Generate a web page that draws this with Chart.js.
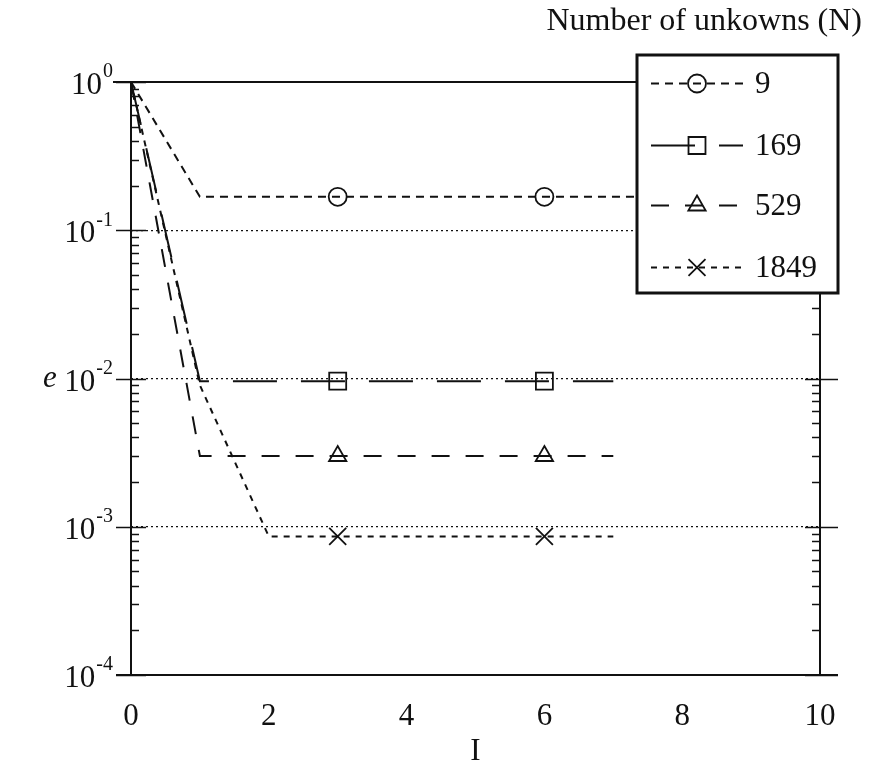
<!DOCTYPE html>
<html>
<head>
<meta charset="utf-8">
<title>Error e against iterations I</title>
<script src="https://cdn.jsdelivr.net/npm/chart.js@4"></script>
<style>
  html, body { margin: 0; padding: 0; background: #fff; }
  #wrap { width: 869px; height: 770px; }
</style>
</head>
<body>
<div id="wrap"><canvas id="chart" width="869" height="770"></canvas></div>
<script>
// error e after I iterations, one series per problem size N
const iters9 = [0, 1, 3, 6, 10];
const err9 = [1, 0.168, 0.168, 0.168, 0.168];
const iters169 = [0, 1, 3, 6, 7];
const err169 = [1, 0.0096, 0.0096, 0.0096, 0.0096];
const iters529 = [0, 1, 3, 6, 7];
const err529 = [1, 0.003, 0.003, 0.003, 0.003];
const iters1849 = [0, 1, 2, 3, 6, 7];
const err1849 = [1, 0.009, 0.00086, 0.00086, 0.00086, 0.00086];

const markedIters = [3, 6];           // symbols only drawn here
const unknowns = ['9', '169', '529', '1849'];
const xTicks = [0, 2, 4, 6, 8, 10];
const decades = [0, -1, -2, -3, -4];  // y labels are 10^p

const SERIF = '"Liberation Serif", "Times New Roman", serif';
const INK = '#111';

function series(label, xs, ys, style, radius, dash) {
  return {
    label,
    data: xs.map((v, i) => ({ x: v, y: ys[i] })),
    borderColor: INK,
    borderWidth: 2,
    borderDash: dash,
    tension: 0,
    pointStyle: style,
    markRadius: radius,
    pointRadius: ctx => markedIters.includes(xs[ctx.dataIndex]) ? radius : 0,
    pointHoverRadius: 0,
    pointBorderColor: INK,
    pointBackgroundColor: 'rgba(0,0,0,0)',
    pointBorderWidth: 1.8
  };
}

const datasets = [
  series(unknowns[0], iters9, err9, 'circle', 9, [8, 6]),
  series(unknowns[1], iters169, err169, 'rect', 12, [44, 24]),
  series(unknowns[2], iters529, err529, 'triangle', 10, [18, 16]),
  series(unknowns[3], iters1849, err1849, 'crossRot', 12, [6, 6])
];

// axes frame, log ticks, superscript labels and the boxed legend
const frame = {
  id: 'frame',
  afterDraw(chart) {
    const { ctx, chartArea: a, scales: { y } } = chart;
    ctx.save();
    ctx.strokeStyle = INK;
    ctx.fillStyle = INK;
    ctx.setLineDash([]);

    ctx.lineWidth = 2;
    ctx.beginPath();
    ctx.moveTo(a.left - 18, a.top); ctx.lineTo(a.right, a.top);
    ctx.moveTo(a.left - 15, a.bottom); ctx.lineTo(a.right + 18, a.bottom);
    ctx.moveTo(a.left, a.top); ctx.lineTo(a.left, a.bottom);
    ctx.moveTo(a.right, a.top); ctx.lineTo(a.right, a.bottom);
    ctx.stroke();

    ctx.lineWidth = 1.5;
    ctx.beginPath();
    decades.forEach(p => {
      const py = Math.round(y.getPixelForValue(Math.pow(10, p))) + 0.5;
      ctx.moveTo(a.left - 15, py); ctx.lineTo(a.left + 15, py);
      ctx.moveTo(a.right - 15, py); ctx.lineTo(a.right + 18, py);
      if (p === -4) return;
      for (let k = 2; k <= 9; k++) {
        const my = Math.round(y.getPixelForValue(k * Math.pow(10, p - 1))) + 0.5;
        ctx.moveTo(a.left, my); ctx.lineTo(a.left + 8, my);
        ctx.moveTo(a.right - 8, my); ctx.lineTo(a.right, my);
      }
    });
    ctx.stroke();

    // 10^p labels
    ctx.textBaseline = 'middle';
    decades.forEach(p => {
      const py = y.getPixelForValue(Math.pow(10, p));
      const exp = String(p);
      ctx.font = '20px ' + SERIF;
      const ew = ctx.measureText(exp).width;
      ctx.textAlign = 'right';
      ctx.fillText(exp, a.left - 18, py - 10);
      ctx.font = '31px ' + SERIF;
      ctx.fillText('10', a.left - 19 - ew, py + 4);
    });

    ctx.font = 'italic 31px ' + SERIF;
    ctx.textAlign = 'center';
    ctx.fillText('e', 50, y.getPixelForValue(1e-2));

    ctx.font = '32px ' + SERIF;
    ctx.textAlign = 'right';
    ctx.fillText('Number of unkowns (N)', 862, 22);

    // legend box
    const box = { left: 637, top: 55, right: 838, bottom: 293 };
    ctx.fillStyle = '#fff';
    ctx.fillRect(box.left, box.top, box.right - box.left, box.bottom - box.top);
    ctx.lineWidth = 3;
    ctx.strokeStyle = INK;
    ctx.strokeRect(box.left, box.top, box.right - box.left, box.bottom - box.top);

    const rows = [83, 145, 205, 267];
    ctx.font = '31px ' + SERIF;
    ctx.textAlign = 'left';
    chart.data.datasets.forEach((ds, i) => {
      const ry = rows[i] + 0.5;
      ctx.lineWidth = ds.borderWidth;
      ctx.setLineDash(ds.borderDash);
      ctx.beginPath();
      ctx.moveTo(651, ry); ctx.lineTo(743, ry);
      ctx.stroke();
      ctx.setLineDash([]);
      ctx.lineWidth = ds.pointBorderWidth;
      ctx.fillStyle = 'rgba(0,0,0,0)';
      Chart.helpers.drawPoint(ctx, {
        pointStyle: ds.pointStyle,
        rotation: 0,
        radius: ds.markRadius,
        borderWidth: ds.pointBorderWidth
      }, 697, ry);
      ctx.fillStyle = INK;
      ctx.fillText(ds.label, 755, rows[i] + 2);
    });
    ctx.restore();
  }
};

new Chart(document.getElementById('chart'), {
  type: 'line',
  data: { datasets },
  options: {
    responsive: false,
    animation: false,
    layout: { padding: { left: 0, top: 82, right: 49, bottom: 0 } },
    plugins: { legend: { display: false }, tooltip: { enabled: false } },
    scales: {
      x: {
        type: 'linear',
        min: 0,
        max: 10,
        afterFit: s => { s.height = 95; },
        afterBuildTicks: s => { s.ticks = xTicks.map(v => ({ value: v })); },
        grid: { display: false, drawTicks: false },
        border: { display: false },
        ticks: {
          autoSkip: false, maxRotation: 0, padding: 23,
          color: INK, font: { family: SERIF, size: 31 }
        },
        title: {
          display: true, text: 'I', color: INK,
          padding: { top: 0, bottom: 0 },
          font: { family: SERIF, size: 31 }
        }
      },
      y: {
        type: 'logarithmic',
        min: 1e-4,
        max: 1,
        afterFit: s => { s.width = 131; },
        afterBuildTicks: s => { s.ticks = decades.map(p => ({ value: Math.pow(10, p) })); },
        ticks: { display: false },
        grid: {
          drawTicks: false,
          lineWidth: 1.3,
          color: c => (c.tick && c.tick.value < 0.5 && c.tick.value > 2e-4) ? INK : 'rgba(0,0,0,0)'
        },
        border: { display: false, dash: [2, 3] }
      }
    }
  },
  plugins: [frame]
});
</script>
</body>
</html>
